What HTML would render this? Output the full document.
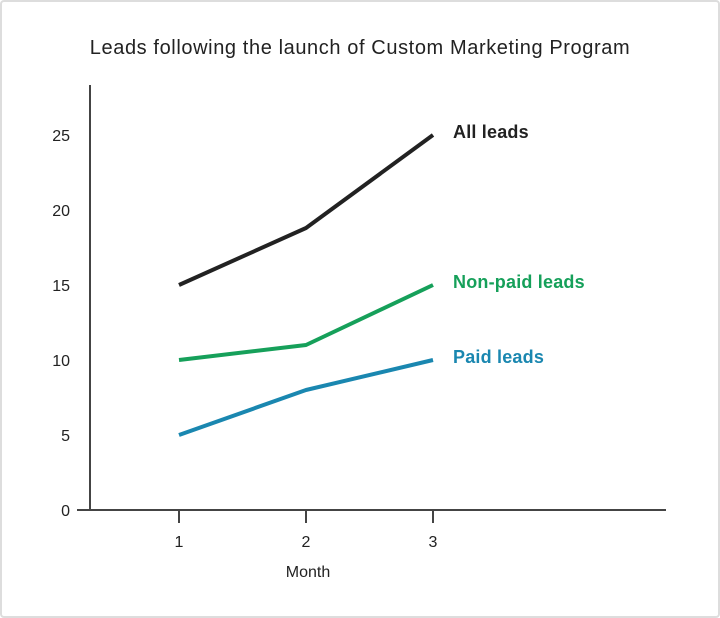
<!DOCTYPE html>
<html><head><meta charset="utf-8"><style>
body{margin:0;background:#fff}
svg{display:block;font-family:"Liberation Sans",sans-serif}
</style></head><body>
<svg width="720" height="618">
<rect x="1" y="1" width="718" height="616" rx="3" fill="#fff" stroke="#ddd" stroke-width="2"/>
<text x="360" y="54" text-anchor="middle" font-size="20" letter-spacing="0.6" fill="#222">Leads following the launch of Custom Marketing Program</text>
<g id="axes"></g>
<g id="series"></g>
<text x="308" y="577" text-anchor="middle" font-size="16" fill="#222">Month</text>
</svg>
<script>
const months=[1,2,3];
const yTicks=[0,5,10,15,20,25];
const allLeads=[15,18.8,25];
const nonPaid=[10,11,15];
const paid=[5,8,10];
const names=["All leads","Non-paid leads","Paid leads"];
const NS="http://www.w3.org/2000/svg";
const x=m=>179+(m-1)*127;
const y=v=>510-v*15;
function mk(t,a,p){const e=document.createElementNS(NS,t);for(const k in a)e.setAttribute(k,a[k]);p.appendChild(e);return e;}
const ax=document.getElementById('axes');
let l=mk('line',{x1:90,y1:85,x2:90,y2:510,stroke:'#444','stroke-width':2},ax);


l=mk('line',{x1:77,y1:510,x2:666,y2:510,stroke:'#444','stroke-width':2},ax);


yTicks.forEach(v=>{const t=mk('text',{x:70,y:y(v)+6,'text-anchor':'end','font-size':16,fill:'#222'},ax);t.textContent=v;

});
months.forEach(m=>{const tk=mk('line',{x1:x(m),y1:510,x2:x(m),y2:523,stroke:'#444','stroke-width':2},ax);


const t=mk('text',{x:x(m),y:547,'text-anchor':'middle','font-size':16,fill:'#222'},ax);t.textContent=m;

});
const sg=document.getElementById('series');
[[allLeads,'#222'],[nonPaid,'#16a05a'],[paid,'#1a87b0']].forEach((s,i)=>{
const p=mk('polyline',{points:s[0].map((v,j)=>x(months[j])+','+y(v)).join(' '),fill:'none',stroke:s[1],'stroke-width':4,'stroke-linejoin':'round'},sg);


const last=s[0][s[0].length-1];
const t=mk('text',{x:453,y:y(last)+3,'font-size':18,'letter-spacing':0.2,'font-weight':'bold',fill:s[1]},sg);t.textContent=names[i];


});
</script>
</body></html>
